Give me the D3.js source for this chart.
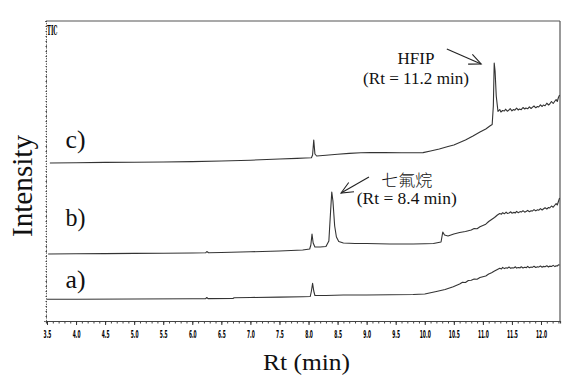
<!DOCTYPE html>
<html><head><meta charset="utf-8">
<script src="https://cdn.jsdelivr.net/npm/d3@7"></script>
<style>body{margin:0;background:#fff}svg{display:block}</style>
</head><body>
<script>
// ---- data: [retention time (min), intensity (arb., stacked)] ----
const traceA = [[3.5,21.7],[4.0,21.8],[5.0,22],[6.0,22.2],[6.23,22.3],[6.25,23.5],[6.27,22.4],[6.7,22.5],[6.72,23.3],[7.0,23.5],[7.5,23.9],[7.9,24.3],[8.03,24.5],[8.05,30],[8.07,37.7],[8.09,30],[8.11,25.5],[8.3,25.5],[8.6,26],[9.0,26],[9.4,26.2],[9.8,26.5],[10.0,27],[10.2,29.5],[10.35,31.5],[10.49,34.3],[10.6,37],[10.65,38.8],[10.7,38.5],[10.75,40.5],[10.8,40.8],[10.85,42],[10.9,41.8],[10.95,43.5],[11.0,44.3],[11.05,45],[11.1,47],[11.15,48.3],[11.2,50],[11.25,51.5],[11.29,52.7],[11.32,52],[11.34,53.6],[11.37,52.4],[11.4,53.2],[11.42,52.8],[11.45,54],[11.48,52.6],[11.5,53.3],[11.53,53],[11.56,54.2],[11.58,52.9],[11.61,53.5],[11.64,53.1],[11.66,54.3],[11.69,53],[11.72,53.8],[11.75,53.4],[11.77,54.6],[11.8,53.2],[11.83,54],[11.85,53.6],[11.88,54.8],[11.91,53.5],[11.94,54.3],[11.96,53.9],[11.99,55],[12.02,53.8],[12.04,54.6],[12.07,54.2],[12.1,55.3],[12.13,54],[12.15,54.9],[12.18,54.5],[12.21,55.6],[12.24,54.4],[12.26,55.3],[12.28,55],[12.3,56.2],[12.32,56]];
const traceB = [[3.52,67],[4.0,67.2],[4.5,67.4],[5.0,67.6],[5.5,67.8],[6.0,68],[6.23,68.2],[6.25,69.5],[6.28,68.3],[6.5,68.5],[7.0,69.2],[7.5,70],[7.9,71],[8.02,72],[8.04,76],[8.06,87],[8.08,78],[8.11,74],[8.2,74],[8.3,74.5],[8.35,80],[8.38,110],[8.4,129],[8.42,120],[8.45,95],[8.48,84],[8.52,79.5],[8.6,78],[8.8,77.5],[9.0,77.5],[9.2,77.2],[9.4,77],[9.6,77],[9.8,77],[10.0,77.2],[10.15,77.5],[10.28,79],[10.31,89],[10.34,86],[10.4,85],[10.5,87],[10.6,88.5],[10.7,89.5],[10.8,91],[10.85,92.5],[10.9,92.3],[10.95,94.2],[11.0,95.5],[11.05,96.8],[11.1,99.5],[11.15,101.5],[11.2,103.5],[11.25,106],[11.29,107.5],[11.32,106.8],[11.34,108.3],[11.37,107.2],[11.4,108.8],[11.42,107.6],[11.45,108],[11.48,109.2],[11.5,107.8],[11.53,108.6],[11.56,108.1],[11.58,109.6],[11.61,108.3],[11.64,109.4],[11.66,108.9],[11.69,110.3],[11.72,108.8],[11.75,109.7],[11.77,110.6],[11.8,109.2],[11.83,110.3],[11.85,109.9],[11.88,111.4],[11.91,110.1],[11.94,111.2],[11.96,110.7],[11.99,112.4],[12.02,111],[12.04,112],[12.07,113.3],[12.1,112],[12.13,113.5],[12.15,113],[12.18,115],[12.21,113.8],[12.24,116],[12.26,117.5],[12.28,116],[12.3,119.5],[12.32,123]];
const traceC = [[3.55,158],[4.0,158.3],[4.5,158.6],[5.0,158.8],[5.5,159],[6.0,159.4],[6.5,160],[7.0,160.8],[7.5,162],[7.8,162.6],[7.95,163],[8.05,163.2],[8.07,166],[8.09,181],[8.11,167],[8.14,165],[8.3,165.8],[8.5,166.8],[8.7,167.6],[8.9,168.2],[9.06,168.5],[9.3,168.4],[9.6,168.2],[9.8,168.2],[9.97,168.4],[10.1,170],[10.25,172],[10.4,174.5],[10.5,176],[10.6,178.5],[10.7,181],[10.83,185],[10.95,189],[11.05,192],[11.12,195],[11.16,196.5],[11.18,215],[11.195,258],[11.21,250],[11.23,225],[11.26,209.5],[11.29,211.5],[11.31,209],[11.34,210.5],[11.37,210],[11.39,211.8],[11.42,209.8],[11.45,211],[11.47,212.3],[11.5,210.2],[11.53,211.5],[11.55,210.8],[11.58,212.8],[11.61,211],[11.63,212],[11.66,211.3],[11.69,213.5],[11.72,212],[11.74,213],[11.77,212.2],[11.8,214.2],[11.83,212.5],[11.85,213.6],[11.88,215],[11.91,213.2],[11.94,214.5],[11.96,214],[11.99,216.2],[12.02,214.5],[12.04,216],[12.07,215.3],[12.1,217.8],[12.13,216],[12.15,217],[12.18,219.5],[12.21,217.5],[12.24,220],[12.26,221.5],[12.28,219.5],[12.3,223.5],[12.32,226]];
const traceLabels = ["a)", "b)", "c)"];
const labelLevels = [33, 95, 173];          // intensity level of label baselines
const labelTime = 3.82;
const xMajorTicks = d3.range(3.5, 12.01, 0.5);
const xMinorTicks = d3.range(3.5, 12.33, 0.1);
const peakNotes = [
  {name: "HFIP", rt: "(Rt = 11.2 min)", textT: 9.85, textI: 257, gap: 20, nameLen: 37, rtLen: 106, arrowFrom: [10.38, 272], arrowTo: [10.97, 257]},
  {name: "七氟烷", rt: "(Rt = 8.4 min)", textT: 9.69, textI: 135, gap: 18, nameLen: 51, rtLen: 100, arrowFrom: [9.04, 144], arrowTo: [8.56, 128]}
];

const SERIF = "Liberation Serif, serif";
const W = 588, H = 391;
const svg = d3.select("body").append("svg").attr("width", W).attr("height", H);
const x = d3.scaleLinear().domain([3.483, 12.327]).range([46, 560]);
const y = d3.scaleLinear().domain([0, 300]).range([321, 21]);

// frame
const frame = svg.append("g").attr("stroke", "#555").attr("stroke-width", 1.2).attr("fill", "none");
frame.append("line").attr("x1", x(3.483)).attr("x2", x(12.327)).attr("y1", y(300)).attr("y2", y(300));
frame.append("line").attr("x1", x(12.327)).attr("x2", x(12.327)).attr("y1", y(300)).attr("y2", y(0));

// x axis
const xAxisG = svg.append("g").attr("transform", `translate(0,${y(0)})`);
xAxisG.append("g").call(d3.axisBottom(x).tickValues(xMinorTicks).tickSize(2.5).tickFormat(""))
  .call(g => g.select(".domain").attr("stroke", "#444").attr("stroke-width", 1.2))
  .call(g => g.selectAll(".tick line").attr("stroke", "#444"));
xAxisG.append("g").call(d3.axisBottom(x).tickValues(xMajorTicks).tickSize(4).tickFormat(d3.format(".1f")))
  .call(g => g.select(".domain").remove())
  .call(g => g.selectAll(".tick line").attr("stroke", "#333"))
  .call(g => g.selectAll(".tick text").attr("y", 10).attr("dy", "0.71em")
      .attr("font-family", "DejaVu Sans, sans-serif")
      .attr("font-weight", "bold").attr("font-size", 10.5).attr("fill", "#000")
      .attr("textLength", d => d >= 10 ? 11 : 7.8).attr("lengthAdjust", "spacingAndGlyphs"));

// y axis (dotted, unlabeled)
svg.append("g").attr("transform", `translate(${x(3.483)},0)`)
  .call(d3.axisLeft(y).tickValues(d3.range(0, 301, 5)).tickSize(2).tickFormat(""))
  .call(g => g.select(".domain").attr("stroke", "#666").attr("stroke-width", 1).attr("stroke-dasharray", "1.5,1.2"))
  .call(g => g.selectAll(".tick line").attr("stroke", "#444").attr("x2", 1.5).attr("transform", "translate(-0.5,0)"));

// TIC label
svg.append("text").attr("x", 47).attr("y", 35).text("TIC")
  .attr("font-family", "DejaVu Serif, serif").attr("font-weight", "bold").attr("font-size", 12.5)
  .attr("textLength", 10.5).attr("lengthAdjust", "spacingAndGlyphs").attr("fill", "#000");

// traces
const line = d3.line().x(d => x(d[0])).y(d => y(d[1]));
svg.append("g").selectAll("path").data([traceA, traceB, traceC]).join("path")
  .attr("d", line).attr("fill", "none").attr("stroke", "#333").attr("stroke-width", 1.1)
  .attr("stroke-linejoin", "round");

// trace labels
svg.append("g").selectAll("text").data(traceLabels).join("text")
  .attr("x", x(labelTime)).attr("y", (d, i) => y(labelLevels[i])).text(d => d)
  .attr("font-family", SERIF).attr("font-size", 25).attr("fill", "#111")
  .attr("textLength", 20).attr("lengthAdjust", "spacingAndGlyphs");

// peak annotations
const notes = svg.append("g").attr("font-family", SERIF)
  .attr("font-size", 17).attr("fill", "#111").attr("text-anchor", "middle");
peakNotes.forEach(p => {
  const isCJK = /[\u4e00-\u9fff]/.test(p.name);
  notes.append("text").attr("x", x(p.textT)).attr("y", y(p.textI)).text(p.name)
    .attr("font-family", isCJK ? "Noto Sans CJK TC, sans-serif" : SERIF)
    .attr("font-size", isCJK ? 16 : 17).attr("font-weight", isCJK ? 300 : "normal")
    .attr("textLength", p.nameLen).attr("lengthAdjust", "spacingAndGlyphs");
  notes.append("text").attr("x", x(p.textT)).attr("y", y(p.textI) + p.gap).text(p.rt)
    .attr("textLength", p.rtLen).attr("lengthAdjust", "spacingAndGlyphs");
  const x1 = x(p.arrowFrom[0]), y1 = y(p.arrowFrom[1]), x2 = x(p.arrowTo[0]), y2 = y(p.arrowTo[1]);
  const ang = Math.atan2(y2 - y1, x2 - x1), L = 13, spread = 0.42;
  const g = svg.append("g").attr("stroke", "#222").attr("stroke-width", 1.1).attr("fill", "none");
  g.append("line").attr("x1", x1).attr("y1", y1).attr("x2", x2).attr("y2", y2);
  g.append("polyline").attr("points", [
    [x2 - L * Math.cos(ang - spread), y2 - L * Math.sin(ang - spread)],
    [x2, y2],
    [x2 - L * Math.cos(ang + spread), y2 - L * Math.sin(ang + spread)]
  ].map(q => q.join(",")).join(" "));
});

// axis titles
svg.append("text").attr("transform", `translate(32,186) rotate(-90)`).attr("text-anchor", "middle")
  .attr("font-family", SERIF).attr("font-size", 29).attr("fill", "#111")
  .attr("textLength", 102).attr("lengthAdjust", "spacingAndGlyphs")
  .text("Intensity");
svg.append("text").attr("x", 306.5).attr("y", 370).attr("text-anchor", "middle")
  .attr("font-family", SERIF).attr("font-size", 23).attr("fill", "#111")
  .attr("textLength", 87).attr("lengthAdjust", "spacingAndGlyphs")
  .text("Rt (min)");
</script>
</body></html>
